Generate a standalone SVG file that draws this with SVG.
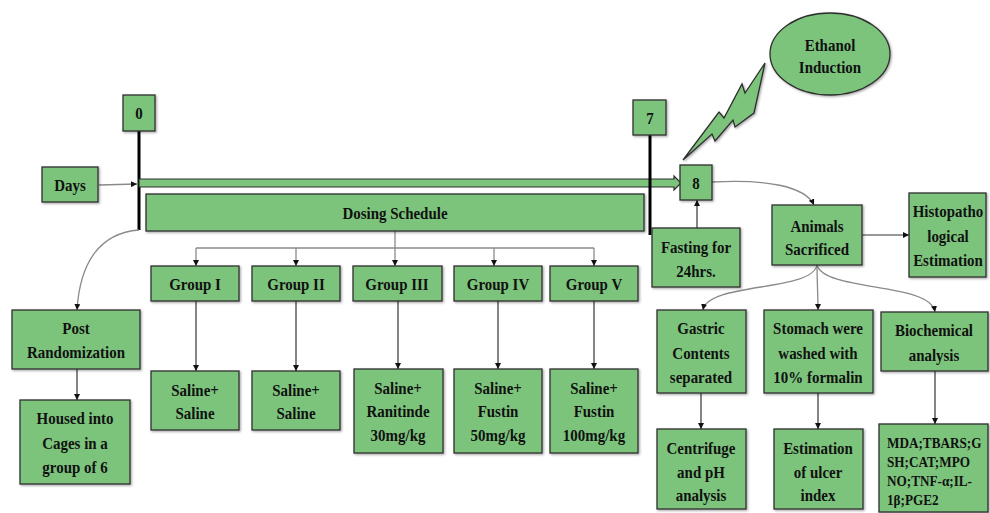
<svg xmlns="http://www.w3.org/2000/svg" width="990" height="513" viewBox="0 0 990 513">
<defs>
<marker id="ah" viewBox="0 0 10 10" refX="10" refY="5" markerWidth="6" markerHeight="6" markerUnits="userSpaceOnUse" orient="auto">
<path d="M0,0 L10,5 L0,10 Z" fill="#111"/>
</marker>
<filter id="sh" x="-10%" y="-10%" width="130%" height="130%">
<feDropShadow dx="1.2" dy="1.2" stdDeviation="0.8" flood-color="#000" flood-opacity="0.35"/>
</filter>
<style>
.b{fill:#7cc47b;stroke:#2e2e2e;stroke-width:1.3;filter:url(#sh)}
.t{font-family:"Liberation Serif","Times New Roman",serif;font-weight:bold;font-size:17px;fill:#111;text-anchor:middle}
.s{font-size:15px;text-anchor:start}
.c{fill:none;stroke:#8a8a8a;stroke-width:1.3}
.a{fill:none;stroke:#333;stroke-width:1.2}
.k{stroke:#000;stroke-width:3}
</style>
</defs>

<g id="connectors">
<line class="k" x1="139" y1="131" x2="139" y2="230"/>
<path id="timeline" d="M139,179 L674,179 L674,176 L681,183 L674,190 L674,187 L139,187 Z" fill="#7cc47b" stroke="#2e2e2e" stroke-width="1.2"/>
<line class="k" x1="650" y1="135" x2="650" y2="235"/>
<path class="c" d="M99,185 L137,184" marker-end="url(#ah)"/>
<path class="c" d="M139,230 C100,233 80,262 77,310" marker-end="url(#ah)"/>
<path class="a" d="M77,369 L77,400" marker-end="url(#ah)"/>
<path class="c" d="M395,231 L395,248 M196,248 L594,248"/>
<path class="c" d="M196,248 L196,266" marker-end="url(#ah)"/>
<path class="c" d="M296,248 L296,266" marker-end="url(#ah)"/>
<path class="c" d="M395,248 L395,266" marker-end="url(#ah)"/>
<path class="c" d="M494,248 L494,266" marker-end="url(#ah)"/>
<path class="c" d="M594,248 L594,266" marker-end="url(#ah)"/>
<path class="a" d="M196,301 L196,371" marker-end="url(#ah)"/>
<path class="a" d="M296,301 L296,371" marker-end="url(#ah)"/>
<path class="a" d="M398,301 L398,369" marker-end="url(#ah)"/>
<path class="a" d="M498,301 L498,369" marker-end="url(#ah)"/>
<path class="a" d="M594,301 L594,369" marker-end="url(#ah)"/>
<path class="a" d="M697,228 L697,200" marker-end="url(#ah)"/>
<path class="c" d="M712,182 C765,179 805,186 814,205" marker-end="url(#ah)"/>
<path class="a" d="M862,235 L909,235" marker-end="url(#ah)"/>
<path class="c" d="M817,265 C812,292 708,282 703,310" marker-end="url(#ah)"/>
<path class="c" d="M817,265 C817,280 818,295 818,310" marker-end="url(#ah)"/>
<path class="c" d="M817,265 C825,292 930,282 935,312" marker-end="url(#ah)"/>
<path class="a" d="M701,393 L701,429" marker-end="url(#ah)"/>
<path class="a" d="M818,393 L818,429" marker-end="url(#ah)"/>
<path class="a" d="M935,371 L935,424" marker-end="url(#ah)"/>
</g>

<g id="bolt">
<polygon class="b" points="683,160 719,112 724,118 742,84 745,93 765,63 754,113 735,127 733,120 715,141 712,134"/>
</g>

<g id="n0"><rect class="b" x="123" y="95" width="32" height="36"/><text class="t" transform="translate(139 0) scale(0.88 1)" y="119">0</text></g>
<g id="n7"><rect class="b" x="633" y="100" width="33" height="35"/><text class="t" transform="translate(650 0) scale(0.88 1)" y="124">7</text></g>
<g id="n8"><rect class="b" x="680" y="165" width="32" height="35"/><text class="t" transform="translate(696 0) scale(0.88 1)" y="189">8</text></g>
<g id="days"><rect class="b" x="42" y="167" width="56" height="35"/><text class="t" transform="translate(70 0) scale(0.88 1)" y="191">Days</text></g>
<g id="dosing"><rect class="b" x="146" y="194" width="498" height="37"/><text class="t" transform="translate(395 0) scale(0.88 1)" y="219">Dosing Schedule</text></g>
<g id="ethanol"><ellipse class="b" cx="830" cy="54" rx="60" ry="41"/><text class="t" transform="translate(830 0) scale(0.88 1)"><tspan x="0" y="51">Ethanol</tspan><tspan x="0" y="73">Induction</tspan></text></g>
<g id="fasting"><rect class="b" x="652" y="228" width="88" height="59"/><text class="t" transform="translate(696 0) scale(0.88 1)"><tspan x="0" y="253">Fasting for</tspan><tspan x="0" y="277">24hrs.</tspan></text></g>
<g id="animals"><rect class="b" x="772" y="205" width="90" height="60"/><text class="t" transform="translate(817 0) scale(0.88 1)"><tspan x="0" y="232">Animals</tspan><tspan x="0" y="255">Sacrificed</tspan></text></g>
<g id="histo"><rect class="b" x="909" y="193" width="77" height="84"/><text class="t" transform="translate(948 0) scale(0.88 1)"><tspan x="0" y="217">Histopatho</tspan><tspan x="0" y="242">logical</tspan><tspan x="0" y="266">Estimation</tspan></text></g>
<g id="post"><rect class="b" x="12" y="310" width="128" height="59"/><text class="t" transform="translate(76 0) scale(0.88 1)"><tspan x="0" y="334">Post</tspan><tspan x="0" y="358">Randomization</tspan></text></g>
<g id="housed"><rect class="b" x="20" y="400" width="110" height="84"/><text class="t" transform="translate(75 0) scale(0.88 1)"><tspan x="0" y="424">Housed into</tspan><tspan x="0" y="449">Cages in a</tspan><tspan x="0" y="473">group of 6</tspan></text></g>
<g id="g1"><rect class="b" x="151" y="266" width="88" height="35"/><text class="t" transform="translate(195 0) scale(0.88 1)" y="290">Group I</text></g>
<g id="g2"><rect class="b" x="252" y="266" width="88" height="35"/><text class="t" transform="translate(296 0) scale(0.88 1)" y="290">Group II</text></g>
<g id="g3"><rect class="b" x="353" y="266" width="89" height="35"/><text class="t" transform="translate(397 0) scale(0.88 1)" y="290">Group III</text></g>
<g id="g4"><rect class="b" x="454" y="266" width="88" height="35"/><text class="t" transform="translate(498 0) scale(0.88 1)" y="290">Group IV</text></g>
<g id="g5"><rect class="b" x="550" y="266" width="88" height="35"/><text class="t" transform="translate(594 0) scale(0.88 1)" y="290">Group V</text></g>
<g id="s1"><rect class="b" x="151" y="371" width="88" height="59"/><text class="t" transform="translate(195 0) scale(0.88 1)"><tspan x="0" y="396">Saline+</tspan><tspan x="0" y="419">Saline</tspan></text></g>
<g id="s2"><rect class="b" x="252" y="371" width="88" height="59"/><text class="t" transform="translate(296 0) scale(0.88 1)"><tspan x="0" y="396">Saline+</tspan><tspan x="0" y="419">Saline</tspan></text></g>
<g id="s3"><rect class="b" x="354" y="369" width="89" height="84"/><text class="t" transform="translate(398 0) scale(0.88 1)"><tspan x="0" y="394">Saline+</tspan><tspan x="0" y="417">Ranitinde</tspan><tspan x="0" y="441">30mg/kg</tspan></text></g>
<g id="s4"><rect class="b" x="454" y="369" width="88" height="84"/><text class="t" transform="translate(498 0) scale(0.88 1)"><tspan x="0" y="394">Saline+</tspan><tspan x="0" y="417">Fustin</tspan><tspan x="0" y="441">50mg/kg</tspan></text></g>
<g id="s5"><rect class="b" x="550" y="369" width="88" height="84"/><text class="t" transform="translate(594 0) scale(0.88 1)"><tspan x="0" y="394">Saline+</tspan><tspan x="0" y="417">Fustin</tspan><tspan x="0" y="441">100mg/kg</tspan></text></g>
<g id="gastric"><rect class="b" x="657" y="310" width="89" height="83"/><text class="t" transform="translate(701 0) scale(0.88 1)"><tspan x="0" y="334">Gastric</tspan><tspan x="0" y="359">Contents</tspan><tspan x="0" y="383">separated</tspan></text></g>
<g id="stomach"><rect class="b" x="764" y="310" width="109" height="83"/><text class="t" transform="translate(818 0) scale(0.88 1)"><tspan x="0" y="334">Stomach were</tspan><tspan x="0" y="359">washed with</tspan><tspan x="0" y="383">10% formalin</tspan></text></g>
<g id="biochem"><rect class="b" x="881" y="312" width="107" height="59"/><text class="t" transform="translate(934 0) scale(0.88 1)"><tspan x="0" y="336">Biochemical</tspan><tspan x="0" y="361">analysis</tspan></text></g>
<g id="centrifuge"><rect class="b" x="657" y="429" width="89" height="80"/><text class="t" transform="translate(701 0) scale(0.88 1)"><tspan x="0" y="454">Centrifuge</tspan><tspan x="0" y="478">and pH</tspan><tspan x="0" y="501">analysis</tspan></text></g>
<g id="ulcer"><rect class="b" x="774" y="429" width="89" height="80"/><text class="t" transform="translate(818 0) scale(0.88 1)"><tspan x="0" y="454">Estimation</tspan><tspan x="0" y="478">of ulcer</tspan><tspan x="0" y="501">index</tspan></text></g>
<g id="markers"><rect class="b" x="879" y="424" width="109" height="88"/><text class="t s" transform="translate(887 0) scale(0.88 1)"><tspan x="0" y="448">MDA;TBARS;G</tspan><tspan x="0" y="467">SH;CAT;MPO</tspan><tspan x="0" y="486">NO;TNF-α;IL-</tspan><tspan x="0" y="505">1β;PGE2</tspan></text></g>
</svg>
